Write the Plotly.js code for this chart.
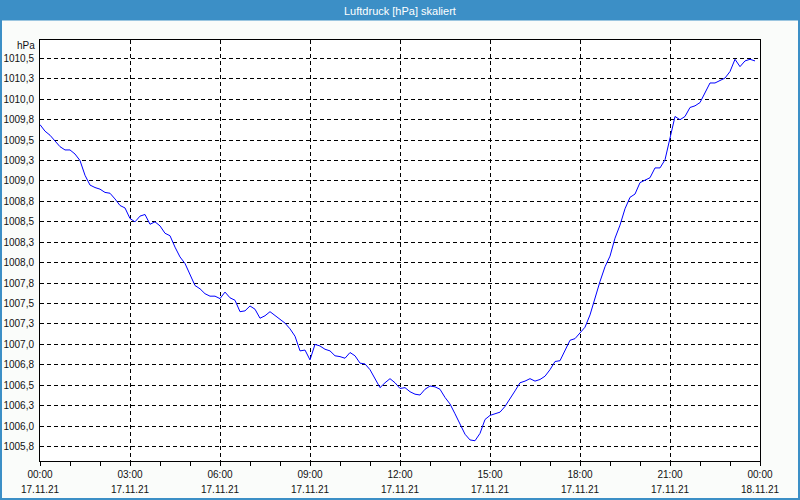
<!DOCTYPE html>
<html>
<head>
<meta charset="utf-8">
<script src="https://cdn.plot.ly/plotly-3.0.1.min.js"></script>
<style>html,body{margin:0;padding:0;background:#fafcfa;}#chart{width:800px;height:500px;}</style>
</head>
<body>
<div id="chart"></div>
<script>
// ---- data ----
const day = "2021-11-17";
const times = [
"00:00","00:10","00:20","00:30","00:40","00:50","01:00","01:10","01:20","01:30","01:40","01:50",
"02:00","02:10","02:20","02:30","02:40","02:50","03:00","03:10","03:20","03:30","03:40","03:50",
"04:00","04:10","04:20","04:30","04:40","04:50","05:00","05:10","05:20","05:30","05:40","05:50",
"06:00","06:10","06:20","06:30","06:40","06:50","07:00","07:10","07:20","07:30","07:40","07:50",
"08:00","08:10","08:20","08:30","08:40","08:50","09:00","09:10","09:20","09:30","09:40","09:50",
"10:00","10:10","10:20","10:30","10:40","10:50","11:00","11:10","11:20","11:30","11:40","11:50",
"12:00","12:10","12:20","12:30","12:40","12:50","13:00","13:10","13:20","13:30","13:40","13:50",
"14:00","14:10","14:20","14:30","14:40","14:50","15:00","15:10","15:20","15:30","15:40","15:50",
"16:00","16:10","16:20","16:30","16:40","16:50","17:00","17:10","17:20","17:30","17:40","17:50",
"18:00","18:10","18:20","18:30","18:40","18:50","19:00","19:10","19:20","19:30","19:40","19:50",
"20:00","20:10","20:20","20:30","20:40","20:50","21:00","21:10","21:20","21:30","21:40","21:50",
"22:00","22:10","22:20","22:30","22:40","22:50","23:00","23:10","23:20","23:30","23:40","23:50"
];
const pressure = [
1009.69,1009.61,1009.56,1009.49,1009.42,1009.38,1009.38,1009.33,1009.25,1009.07,1008.95,1008.92,
1008.90,1008.86,1008.85,1008.78,1008.70,1008.67,1008.54,1008.50,1008.57,1008.59,1008.47,1008.50,
1008.45,1008.36,1008.33,1008.19,1008.07,1007.99,1007.86,1007.72,1007.68,1007.62,1007.59,1007.59,
1007.56,1007.64,1007.57,1007.54,1007.40,1007.41,1007.47,1007.43,1007.32,1007.35,1007.40,1007.35,
1007.30,1007.26,1007.19,1007.10,1006.92,1006.93,1006.81,1007.00,1006.98,1006.94,1006.92,1006.86,
1006.85,1006.83,1006.90,1006.86,1006.77,1006.76,1006.69,1006.57,1006.47,1006.53,1006.58,1006.53,
1006.46,1006.47,1006.42,1006.39,1006.38,1006.45,1006.49,1006.48,1006.45,1006.35,1006.27,1006.15,
1006.02,1005.90,1005.83,1005.82,1005.91,1006.08,1006.13,1006.15,1006.17,1006.24,1006.33,1006.43,
1006.53,1006.55,1006.58,1006.55,1006.57,1006.61,1006.69,1006.79,1006.80,1006.92,1007.05,1007.07,
1007.14,1007.21,1007.36,1007.58,1007.77,1007.95,1008.08,1008.30,1008.46,1008.66,1008.80,1008.84,
1008.98,1009.01,1009.04,1009.16,1009.16,1009.26,1009.52,1009.79,1009.75,1009.79,1009.90,1009.92,
1009.96,1010.09,1010.20,1010.20,1010.23,1010.26,1010.34,1010.49,1010.40,1010.47,1010.49,1010.47
];
const xTickVals = ["2021-11-17 00:00","2021-11-17 03:00","2021-11-17 06:00","2021-11-17 09:00","2021-11-17 12:00",
                   "2021-11-17 15:00","2021-11-17 18:00","2021-11-17 21:00","2021-11-18 00:00"];
const xTimeLabels = ["00:00","03:00","06:00","09:00","12:00","15:00","18:00","21:00","00:00"];
const xDateLabels = ["17.11.21","17.11.21","17.11.21","17.11.21","17.11.21","17.11.21","17.11.21","17.11.21","18.11.21"];
const yTickVals = [1010.5,1010.25,1010.0,1009.75,1009.5,1009.25,1009.0,1008.75,1008.5,1008.25,1008.0,
                   1007.75,1007.5,1007.25,1007.0,1006.75,1006.5,1006.25,1006.0,1005.75];
const yTickText = ["1010,5","1010,3","1010,0","1009,8","1009,5","1009,3","1009,0","1008,8","1008,5","1008,3","1008,0",
                   "1007,8","1007,5","1007,3","1007,0","1006,8","1006,5","1006,3","1006,0","1005,8"];
const titleText = "Luftdruck [hPa] skaliert";
const unitText = "hPa";

// ---- layout helpers ----
const W = 800, H = 500;
const M = {l: 40, r: 40, t: 40, b: 39, pad: 0};
const PW = W - M.l - M.r, PH = H - M.t - M.b;
const px = X => (X - M.l) / PW;
const py = Y => (H - M.b - Y) / PH;
const barBlue = "#3c8fc6";
const font = "Liberation Sans, Arial, sans-serif";
const txt = "#111";

const xs = times.map(t => day + " " + t);

const trace = {
  x: xs, y: pressure, type: "scatter", mode: "lines",
  line: {color: "#0000ff", width: 1}, hoverinfo: "skip", showlegend: false
};

const dateAnnotations = xTickVals.map((v, i) => ({
  text: xDateLabels[i], xref: "x", yref: "paper", x: v, y: py(489.5),
  xanchor: "center", yanchor: "middle", showarrow: false,
  font: {family: font, size: 10, color: txt}
}));

const layout = {
  width: W, height: H, margin: M,
  paper_bgcolor: "#fafcfa", plot_bgcolor: "#ffffff",
  showlegend: false,
  font: {family: font, size: 10, color: txt},
  xaxis: {
    type: "date", range: ["2021-11-17 00:00", "2021-11-18 00:00"],
    tickmode: "array", tickvals: xTickVals, ticktext: xTimeLabels,
    ticks: "outside", ticklen: 4, tickwidth: 1, tickcolor: "#000",
    minor: {dtick: 3600000, ticks: "outside", ticklen: 4, tickwidth: 1, tickcolor: "#000", showgrid: false},
    showgrid: true, gridcolor: "#000", gridwidth: 1, griddash: "4px,3px",
    showline: true, linecolor: "#000", linewidth: 1, mirror: true,
    zeroline: false, fixedrange: true, ticklabelstandoff: 0,
    tickfont: {family: font, size: 10, color: txt}
  },
  yaxis: {
    range: [1005.572, 1010.726],
    tickmode: "array", tickvals: yTickVals, ticktext: yTickText,
    ticks: "", showgrid: true, gridcolor: "#000", gridwidth: 1, griddash: "4px,3px",
    showline: true, linecolor: "#000", linewidth: 1, mirror: true,
    zeroline: false, fixedrange: true, ticklabelstandoff: 3,
    tickfont: {family: font, size: 10, color: txt}
  },
  shapes: [
    {type: "rect", xref: "paper", yref: "paper", x0: px(0), x1: px(W), y0: py(20.5), y1: py(0),
     fillcolor: barBlue, line: {width: 0}, layer: "above"},
    {type: "line", xref: "paper", yref: "paper", x0: px(1), x1: px(1), y0: py(20), y1: py(H),
     line: {color: barBlue, width: 2}},
    {type: "line", xref: "paper", yref: "paper", x0: px(799), x1: px(799), y0: py(20), y1: py(H),
     line: {color: barBlue, width: 2}},
    {type: "line", xref: "paper", yref: "paper", x0: px(0), x1: px(W), y0: py(499), y1: py(499),
     line: {color: barBlue, width: 2}}
  ],
  annotations: [
    {text: titleText, xref: "paper", yref: "paper", x: px(400), y: py(10.5),
     xanchor: "center", yanchor: "middle", showarrow: false,
     font: {family: font, size: 11, color: "#ffffff"}},
    {text: unitText, xref: "paper", yref: "paper", x: px(37), y: py(45),
     xanchor: "right", yanchor: "middle", showarrow: false,
     font: {family: font, size: 10, color: txt}}
  ].concat(dateAnnotations)
};

Plotly.newPlot("chart", [trace], layout, {staticPlot: true, displayModeBar: false});
</script>
</body>
</html>
